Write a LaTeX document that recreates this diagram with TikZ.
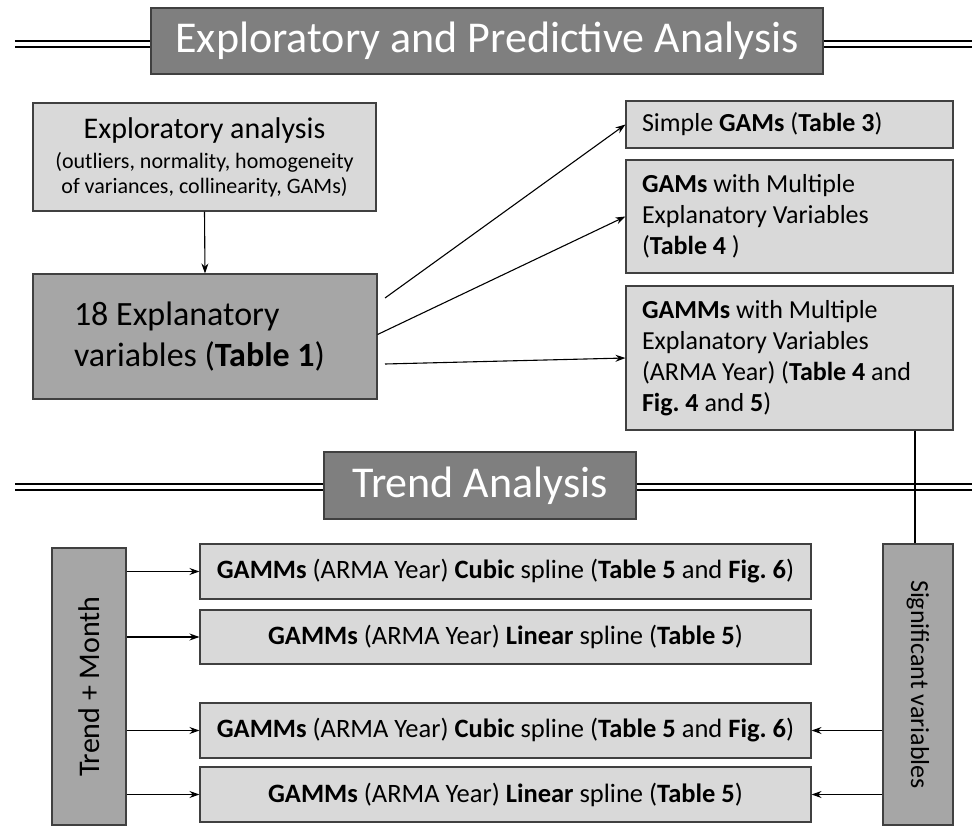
\documentclass[tikz,border=0pt]{standalone}
\usepackage{fontspec}
\setmainfont{Carlito}
\frenchspacing
\usetikzlibrary{arrows.meta}
\definecolor{lightbox}{HTML}{D9D9D9}
\definecolor{midbox}{HTML}{A6A6A6}
\definecolor{titlebox}{HTML}{7F7F7F}
\definecolor{edge}{HTML}{404040}
\newcommand\normsp{\spaceskip=0pt\xspaceskip=0pt\relax}
\tikzset{
  boxbase/.style={draw=edge, line width=1.1pt, inner sep=0pt, anchor=center},
  lbox/.style={boxbase, fill=lightbox},
  mbox/.style={boxbase, fill=midbox},
  tbox/.style={boxbase, fill=titlebox, text=white, font=\fontsize{44}{50}\selectfont},
  dline/.style={double=white, double distance=3.5pt, line width=2.2pt},
  arr/.style={-{Stealth[length=10pt,width=7pt]}, line width=1.1pt},
  plainline/.style={line width=1.1pt}
}
\begin{document}
\begin{tikzpicture}[x=1pt,y=-1pt]
\useasboundingbox (0,0) rectangle (972,826);
% titles
\node[tbox, minimum width=672pt, minimum height=66pt] (t1) at (487,41) {Exploratory and Predictive Analysis};
\coordinate (t1l) at (15,44);
\coordinate (t1r) at (972,44);
\draw[dline] (t1l) -- (t1l -| t1.west);
\draw[dline] (t1r -| t1.east) -- (t1r);

\node[tbox, minimum width=312pt, minimum height=67pt] (t2) at (480,485.5) {Trend Analysis};
\coordinate (t2l) at (15,487);
\coordinate (t2r) at (972,487);
\draw[dline] (t2l) -- (t2l -| t2.west);
\draw[dline] (t2r -| t2.east) -- (t2r);

% left boxes
\node[lbox, minimum width=343pt, minimum height=108pt, align=center,
  font=\fontsize{22}{25}\selectfont] (expl) at (204.5,157)
  {{\fontsize{30}{34}\selectfont Exploratory analysis}\\[5pt]
   (outliers, normality, homogeneity\\
   of variances, collinearity, GAMs)};
\node[mbox, minimum width=344pt, minimum height=125pt, text width=262pt, align=left,
  font=\fontsize{34}{41}\selectfont] (vars) at (205,336.5)
  {\normsp 18 Explanatory\\variables (\textbf{Table 1})};
\draw[arr] (expl.south) -- (vars.north);

% right boxes
\tikzset{rbox/.style={lbox, minimum width=327pt, text width=295pt, align=left, font=\fontsize{26}{31}\selectfont}}
\node[rbox, minimum height=47pt] (simple) at (789.5,124.5) {\normsp Simple \textbf{GAMs} (\textbf{Table 3})};
\node[rbox, minimum height=113pt] (gams) at (789.5,216.5) {\normsp\textbf{GAMs} with Multiple\\Explanatory Variables\\(\textbf{Table 4} )};
\node[rbox, minimum height=144pt] (gamms) at (789.5,358) {\normsp\textbf{GAMMs} with Multiple\\Explanatory Variables\\(ARMA Year) (\textbf{Table 4} and\\\textbf{Fig. 4} and \textbf{5})};

\coordinate (s1) at (385,298);
\coordinate (s3) at (385,364);
\draw[arr] (s1) -- (simple.west);
\draw[arr] (vars.east) ++(0,-2) -- (gams.west);
\draw[arr] (s3) -- (gamms.west);

% trend section
\node[mbox, minimum width=74pt, minimum height=277pt] (tm) at (89,686.5) {};
\node[rotate=90, font=\fontsize{30}{36}\selectfont] (tmtext) at (tm.center) {Trend + Month};
\node[mbox, minimum width=70pt, minimum height=281pt] (sig) at (918,684.5) {};
\node[rotate=-90, font=\fontsize{26}{31}\selectfont] (sigtext) at (sig.center) {Significant variables};

\tikzset{bbox/.style={lbox, minimum width=611pt, minimum height=55pt, font=\fontsize{26.5}{30}\selectfont}}
\node[bbox] (b1) at (505.5,571.5) {\textbf{GAMMs} (ARMA Year) \textbf{Cubic} spline (\textbf{Table 5} and \textbf{Fig. 6})};
\node[bbox, minimum height=54pt] (b2) at (505.5,637) {\textbf{GAMMs} (ARMA Year) \textbf{Linear} spline (\textbf{Table 5})};
\node[bbox] (b3) at (505.5,730.5) {\textbf{GAMMs} (ARMA Year) \textbf{Cubic} spline (\textbf{Table 5} and \textbf{Fig. 6})};
\node[bbox] (b4) at (505.5,794.5) {\textbf{GAMMs} (ARMA Year) \textbf{Linear} spline (\textbf{Table 5})};

\draw[arr] (b1.west -| tm.east) -- (b1.west);
\draw[arr] (b2.west -| tm.east) -- (b2.west);
\draw[arr] (b3.west -| tm.east) -- (b3.west);
\draw[arr] (b4.west -| tm.east) -- (b4.west);
\draw[arr] (b3.east -| sig.west) -- (b3.east);
\draw[arr] (b4.east -| sig.west) -- (b4.east);

\coordinate (vx) at (915,0);
\draw[plainline] (vx |- gamms.south) -- (vx |- sig.north);
\end{tikzpicture}
\end{document}
